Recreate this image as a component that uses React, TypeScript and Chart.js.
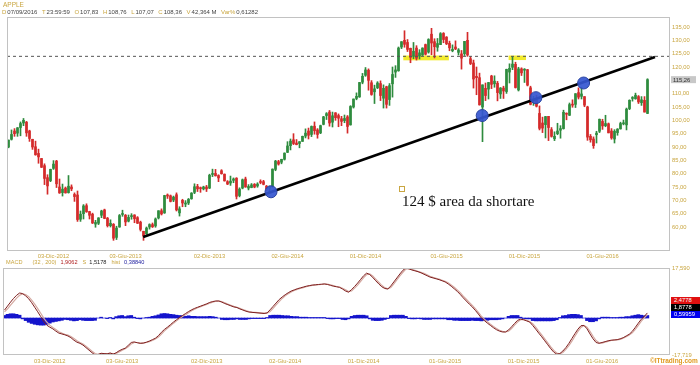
import React, { useEffect, useRef } from 'react';
import { Chart, registerables } from 'chart.js';
Chart.register(...registerables);

const FONT = '"Liberation Sans", Arial, sans-serif';
const GOLD = '#c9a640';
const UP = '#2e8b3e';
const DOWN = '#d42a2a';

// weekly slots: index 0 = week of 13-Aug-2012 ... 213 = week of 12-Sep-2016
const X_MIN = -0.5;
const X_MAX = 220.5;

const OPEN = [
  90.0, 92.9, 96.0, 95.2, 97.3, 99.0, 99.3, 96.0, 92.9, 90.1,
  87.6, 85.7, 83.0, 78.5, 77.4, 82.0, 84.7, 75.0, 72.9, 74.6,
  72.9, 75.0, 72.2, 72.0, 62.9, 65.0, 68.0, 65.8, 64.8, 61.1,
  61.4, 64.4, 66.4, 63.3, 60.5, 61.0, 56.1, 60.0, 64.7, 64.4,
  62.2, 63.9, 64.5, 63.5, 61.8, 58.4, 57.5, 60.0, 60.9, 60.4,
  63.4, 66.1, 65.3, 72.0, 71.7, 70.1, 72.1, 65.3, 70.0, 68.6,
  69.0, 70.6, 73.0, 75.2, 74.5, 74.3, 75.0, 74.6, 79.7, 80.1,
  79.3, 81.1, 79.8, 77.0, 76.5, 77.5, 78.3, 71.8, 74.6, 78.0,
  74.6, 74.8, 76.0, 75.4, 76.9, 77.0, 75.3, 74.6, 75.1, 81.6,
  84.5, 84.3, 85.4, 88.0, 90.5, 92.7, 91.5, 91.3, 92.1, 94.1,
  96.0, 94.7, 97.8, 96.4, 95.3, 98.5, 101.8, 103.1, 99.3, 102.8,
  101.8, 100.6, 99.9, 101.3, 98.3, 105.0, 108.2, 108.8, 114.3, 116.9,
  118.8, 114.1, 110.7, 112.2, 113.8, 108.3, 112.6, 107.8, 113.7, 118.1,
  118.6, 127.5, 130.0, 129.2, 127.0, 124.0, 127.1, 124.1, 124.5, 128.4,
  125.6, 132.3, 129.5, 127.4, 128.4, 132.6, 131.2, 128.9, 126.1, 127.5,
  125.5, 124.9, 125.0, 130.0, 123.1, 121.5, 116.5, 116.0, 105.0, 112.0,
  111.7, 116.6, 113.7, 113.9, 109.9, 112.1, 110.8, 118.1, 119.9, 121.0,
  111.4, 119.3, 118.8, 119.0, 112.2, 107.3, 107.6, 102.6, 99.0, 98.4,
  101.5, 96.5, 93.1, 95.0, 96.3, 96.9, 102.4, 101.9, 105.9, 106.0,
  110.4, 109.0, 108.9, 105.0, 94.0, 93.0, 94.6, 95.9, 99.6, 98.0,
  98.7, 96.0, 93.0, 95.4, 96.8, 98.7, 98.3, 104.4, 108.2, 108.1,
  108.9, 106.6, 107.5, 102.6
];
const HIGH = [
  92.6, 96.4, 96.9, 97.3, 99.4, 100.7, 99.6, 96.3, 92.9, 92.2,
  89.2, 85.7, 83.7, 79.6, 81.7, 84.9, 85.0, 78.0, 76.1, 75.0,
  79.3, 75.8, 72.8, 73.5, 66.0, 68.4, 68.7, 65.9, 65.2, 62.5,
  63.5, 66.3, 66.7, 63.6, 62.7, 61.3, 60.3, 64.7, 66.3, 64.7,
  64.5, 65.0, 64.6, 63.9, 62.2, 58.4, 60.0, 61.2, 61.5, 63.4,
  66.1, 66.8, 71.9, 72.4, 72.0, 71.6, 72.8, 67.6, 70.4, 69.9,
  70.7, 72.9, 76.2, 76.0, 75.0, 75.3, 75.6, 79.8, 81.7, 81.6,
  79.6, 81.5, 79.9, 77.4, 79.1, 78.4, 78.5, 74.7, 78.0, 78.7,
  75.9, 76.3, 76.3, 76.6, 77.7, 77.5, 75.6, 75.4, 81.8, 85.0,
  85.0, 85.4, 87.8, 92.0, 93.0, 95.0, 92.8, 92.0, 94.1, 96.8,
  97.1, 97.9, 99.4, 96.9, 98.2, 101.5, 102.9, 103.7, 103.1, 102.9,
  102.4, 101.5, 102.0, 101.8, 105.5, 108.0, 110.3, 114.2, 117.6, 119.8,
  119.3, 114.9, 113.2, 114.5, 114.8, 113.3, 112.8, 113.8, 120.0, 120.5,
  127.5, 129.5, 133.6, 130.3, 127.1, 129.2, 128.0, 126.5, 127.2, 128.6,
  130.6, 134.5, 130.6, 130.7, 132.9, 132.9, 131.4, 129.7, 128.3, 129.8,
  126.9, 126.2, 129.6, 133.0, 123.9, 122.6, 120.0, 117.7, 113.3, 114.0,
  114.2, 116.9, 116.7, 114.6, 112.3, 112.8, 119.2, 121.2, 123.8, 121.8,
  119.9, 119.7, 119.4, 119.1, 112.8, 109.0, 109.4, 105.4, 101.2, 101.5,
  101.5, 97.3, 95.7, 98.9, 98.0, 103.8, 102.8, 106.5, 107.7, 110.0,
  112.2, 112.4, 108.9, 105.3, 94.7, 93.8, 95.9, 100.5, 100.4, 101.9,
  99.0, 96.9, 96.5, 96.9, 99.3, 100.1, 104.6, 107.7, 108.9, 110.2,
  109.3, 108.9, 108.9, 115.6
];
const LOW = [
  89.7, 92.6, 94.0, 94.0, 94.2, 98.0, 94.0, 92.1, 89.1, 86.9,
  83.9, 82.3, 75.9, 72.3, 77.0, 81.6, 74.8, 72.6, 71.6, 72.7,
  72.7, 73.6, 69.6, 62.1, 62.1, 63.0, 65.5, 63.0, 61.3, 59.9,
  60.9, 63.5, 63.1, 60.0, 60.0, 55.0, 55.3, 59.9, 64.0, 60.5,
  61.9, 62.9, 61.6, 61.3, 58.5, 55.0, 57.2, 59.2, 59.8, 59.9,
  63.0, 64.5, 65.1, 70.7, 69.4, 69.5, 66.0, 64.1, 67.6, 67.6,
  68.4, 70.4, 72.5, 73.3, 73.0, 73.9, 73.3, 74.4, 78.9, 79.1,
  77.0, 79.8, 77.2, 75.9, 75.6, 76.6, 70.5, 71.3, 74.3, 74.9,
  73.9, 74.7, 74.7, 74.9, 76.2, 75.8, 73.6, 73.0, 74.9, 81.1,
  83.2, 83.7, 85.1, 87.9, 88.9, 90.9, 90.8, 89.7, 92.1, 93.4,
  93.0, 93.9, 94.8, 93.3, 95.0, 98.3, 100.3, 97.8, 97.5, 100.0,
  97.6, 98.0, 99.1, 95.2, 98.2, 104.6, 107.7, 108.6, 113.7, 116.5,
  111.3, 109.4, 106.3, 111.9, 107.4, 104.6, 104.6, 105.6, 108.7, 116.1,
  118.4, 126.9, 127.4, 125.8, 121.6, 123.1, 122.6, 123.0, 124.3, 124.5,
  125.2, 124.6, 123.4, 125.9, 128.4, 129.1, 128.4, 126.1, 125.7, 126.5,
  124.5, 119.2, 124.3, 124.0, 120.9, 112.1, 109.6, 105.7, 92.0, 107.4,
  108.0, 111.9, 112.4, 107.3, 108.2, 108.2, 110.1, 114.0, 119.0, 112.1,
  111.0, 116.8, 114.2, 112.9, 105.8, 105.6, 105.0, 96.4, 95.4, 93.4,
  92.4, 93.7, 92.4, 94.6, 93.3, 96.7, 100.2, 101.8, 104.9, 104.8,
  108.0, 108.0, 105.1, 92.5, 91.8, 89.5, 91.5, 95.4, 96.6, 97.6,
  95.3, 92.9, 91.5, 94.4, 96.7, 98.3, 96.4, 104.0, 107.2, 107.9,
  106.3, 105.6, 103.1, 102.5
];
const CLOSE = [
  92.6, 94.7, 95.0, 97.2, 98.8, 100.0, 95.3, 93.2, 90.0, 87.1,
  86.3, 82.4, 78.2, 75.4, 81.6, 83.6, 76.2, 72.8, 74.2, 72.8,
  75.3, 74.3, 71.4, 62.8, 64.8, 67.9, 65.7, 64.4, 61.5, 61.7,
  63.4, 66.0, 63.2, 60.5, 61.4, 55.8, 59.6, 64.3, 64.7, 61.9,
  63.6, 64.2, 63.1, 61.4, 59.1, 56.6, 59.6, 60.9, 60.1, 63.0,
  66.1, 64.9, 71.8, 71.6, 69.6, 71.2, 66.4, 66.8, 69.0, 69.0,
  70.4, 72.7, 75.1, 74.3, 74.4, 75.0, 74.3, 79.4, 80.0, 79.2,
  78.4, 80.0, 77.3, 76.1, 77.2, 78.0, 71.5, 74.2, 77.7, 75.0,
  75.2, 75.8, 75.0, 76.1, 76.7, 76.0, 74.2, 75.0, 81.7, 84.7,
  83.6, 85.4, 87.7, 90.4, 92.2, 91.3, 90.9, 92.0, 94.0, 95.2,
  94.4, 97.7, 96.1, 94.7, 98.0, 101.3, 102.5, 99.0, 101.7, 101.0,
  100.8, 99.6, 100.7, 97.7, 105.2, 108.0, 109.0, 114.2, 116.5, 118.9,
  115.0, 109.7, 111.8, 114.0, 109.3, 112.0, 106.0, 113.0, 117.2, 118.9,
  127.1, 129.5, 128.5, 126.6, 123.6, 125.9, 123.3, 125.3, 127.1, 124.8,
  130.3, 129.0, 127.6, 128.8, 132.5, 130.3, 128.7, 127.2, 126.6, 126.8,
  126.4, 123.3, 129.6, 124.5, 121.3, 115.5, 116.0, 105.8, 113.3, 109.3,
  114.2, 113.5, 114.7, 110.4, 112.1, 111.0, 119.1, 119.5, 121.1, 112.3,
  119.3, 117.8, 119.0, 113.2, 106.0, 108.0, 105.3, 97.0, 97.1, 101.4,
  97.3, 94.0, 94.0, 96.0, 96.9, 103.0, 102.3, 105.9, 105.7, 110.0,
  108.7, 109.9, 105.7, 93.7, 92.7, 90.5, 95.2, 100.4, 97.9, 98.8,
  95.3, 93.4, 95.9, 96.7, 98.8, 98.7, 104.2, 107.5, 108.2, 109.4,
  106.9, 107.7, 103.1, 115.26
];

const MACD = [
  2.8, 4.2, 5.6, 6.9, 8.0, 8.8, 8.6, 7.8, 6.8, 5.4,
  3.8, 2.2, 0.5, -1.2, -2.5, -3.2, -3.8, -4.6, -5.3, -5.6,
  -5.9, -6.3, -6.9, -7.8, -8.5, -8.9, -9.5, -10.4, -11.3, -12.2,
  -13.0, -12.8, -12.4, -12.5, -12.6, -12.3, -12.7, -12.2, -11.5, -11.0,
  -10.6, -9.6, -8.6, -8.4, -8.7, -8.9, -8.8, -8.5, -8.1, -7.6,
  -7.1, -6.2, -5.0, -4.0, -3.2, -2.3, -1.4, -0.6, 0.2, 0.9,
  1.6, 2.3, 2.9, 3.4, 3.8, 4.2, 4.6, 5.0, 5.5, 5.8,
  6.0, 6.0, 5.6, 5.1, 4.7, 4.3, 3.9, 3.7, 3.2, 2.8,
  2.4, 2.1, 2.0, 1.9, 1.8, 1.7, 1.6, 1.8, 2.9, 4.1,
  5.3, 6.5, 7.4, 8.2, 8.9, 9.5, 9.9, 10.3, 10.6, 10.9,
  11.2, 11.4, 11.6, 11.7, 11.8, 11.9, 12.0, 11.8, 11.5, 11.2,
  11.0, 10.8, 10.2, 9.5, 9.1, 10.0, 11.1, 12.3, 13.6, 14.9,
  15.8, 15.3, 14.3, 13.1, 12.0, 11.0, 10.4, 10.2, 11.3, 12.7,
  14.1, 15.5, 16.8, 17.6, 17.3, 16.9, 16.6, 16.3, 15.9, 15.4,
  14.9, 14.4, 14.1, 13.8, 13.5, 13.1, 12.7, 12.0, 11.2, 10.3,
  9.4, 8.3, 7.1, 6.0, 4.9, 3.9, 2.7, 1.4, 0.0, -0.9,
  -1.8, -2.6, -3.4, -4.1, -4.6, -4.9, -4.9, -4.2, -3.1, -1.9,
  -0.8, -0.4, -0.6, -1.0, -1.4, -2.6, -3.9, -5.3, -6.6, -8.0,
  -9.4, -10.8, -12.0, -12.7, -12.5, -11.6, -10.4, -8.9, -7.2, -5.5,
  -3.9, -2.7, -2.6, -3.8, -5.6, -7.3, -8.6, -8.9, -8.6, -8.3,
  -8.0, -7.8, -7.7, -7.6, -7.3, -6.9, -6.3, -5.7, -4.7, -3.3,
  -1.8, -0.4, 0.6, 1.8
];
const SIGNAL = [
  2.2, 3.2, 4.5, 5.8, 7.0, 8.0, 8.5, 8.3, 7.5, 6.3,
  4.9, 3.3, 1.7, 0.0, -1.4, -2.5, -3.3, -4.0, -4.8, -5.3,
  -5.7, -6.0, -6.5, -7.2, -8.0, -8.6, -9.1, -9.9, -10.8, -11.7,
  -12.5, -12.8, -12.6, -12.5, -12.5, -12.4, -12.5, -12.4, -11.9, -11.3,
  -10.8, -10.1, -9.1, -8.6, -8.6, -8.8, -8.8, -8.6, -8.3, -7.9,
  -7.4, -6.7, -5.6, -4.5, -3.6, -2.7, -1.8, -1.0, -0.2, 0.5,
  1.2, 1.9, 2.6, 3.1, 3.6, 4.0, 4.4, 4.8, 5.2, 5.6,
  5.9, 6.0, 5.8, 5.4, 4.9, 4.5, 4.1, 3.8, 3.4, 3.0,
  2.6, 2.3, 2.1, 2.0, 1.9, 1.8, 1.7, 1.7, 2.3, 3.4,
  4.6, 5.8, 6.9, 7.8, 8.5, 9.2, 9.7, 10.1, 10.4, 10.7,
  11.0, 11.3, 11.5, 11.6, 11.7, 11.8, 11.9, 11.9, 11.7, 11.4,
  11.1, 10.9, 10.5, 9.9, 9.3, 9.5, 10.5, 11.6, 12.9, 14.2,
  15.3, 15.5, 14.8, 13.7, 12.6, 11.5, 10.7, 10.3, 10.7, 12.0,
  13.4, 14.8, 16.1, 17.2, 17.4, 17.1, 16.8, 16.4, 16.1, 15.7,
  15.2, 14.7, 14.3, 14.0, 13.7, 13.3, 12.9, 12.4, 11.6, 10.8,
  9.9, 8.9, 7.7, 6.6, 5.5, 4.4, 3.3, 2.0, 0.7, -0.4,
  -1.3, -2.2, -3.0, -3.7, -4.3, -4.7, -4.9, -4.6, -3.7, -2.5,
  -1.4, -0.6, -0.5, -0.8, -1.2, -2.0, -3.2, -4.6, -5.9, -7.3,
  -8.7, -10.1, -11.4, -12.3, -12.6, -12.1, -11.0, -9.7, -8.1, -6.4,
  -4.7, -3.3, -2.6, -3.2, -4.7, -6.4, -7.9, -8.7, -8.8, -8.5,
  -8.2, -7.9, -7.8, -7.7, -7.5, -7.1, -6.6, -6.0, -5.2, -4.0,
  -2.6, -1.1, 0.1, 1.2
];
const HIST = [
  0.9, 1.3, 1.5, 1.5, 1.3, 1.0,
  -0.3, -0.9, -1.5, -1.9, -2.2, -2.4, -2.5, -2.5, -2.2, -1.8, -1.4, -1.2,
  -1.0, -0.8, -0.5, -0.6, -0.8, -1.0, -0.9, -0.6, -0.8, -0.9, -0.9, -0.9, -0.8, 0.0, 0.3, 0.0, -0.2,
  0.2, -0.3, 0.5, 0.8, 0.9,
  0.5, 0.8, 0.9, 0.3, -0.2, -0.3, 0.0, 0.2, 0.3,
  0.6, 0.8, 1.1, 1.5, 1.6, 1.5, 1.3,
  1.2, 1.0, 0.9, 0.8, 0.6,
  0.8, 0.6, 0.6, 0.5, 0.5, 0.5, 0.5, 0.6, 0.5, 0.3,
  0.0, -0.5, -0.6, -0.6, -0.5, -0.5, -0.3, -0.5, -0.5, -0.5, -0.3, -0.2, -0.2, -0.2, -0.2, -0.2, 0.2,
  0.9, 1.0, 1.0, 1.0, 0.9, 0.8, 0.8, 0.6, 0.5, 0.5, 0.3, 0.3, 0.3, 0.2,
  0.2, 0.2, 0.2, 0.2, 0.2, -0.2, -0.3, -0.3, -0.2, -0.2, -0.5, -0.6, -0.3,
  0.6, 0.9, 1.0, 1.0, 1.0, 0.8,
  -0.3, -0.8, -0.9, -0.9, -0.8, -0.5, -0.2,
  0.9, 1.0, 1.0, 1.0, 1.0, 0.6,
  -0.2, -0.3, -0.3, -0.2, -0.3, -0.5, -0.5, -0.5, -0.3, -0.3, -0.3, -0.3, -0.3, -0.6,
  -0.6, -0.8, -0.8, -0.9, -0.9, -0.9, -0.9, -0.8, -0.9, -0.9,
  -1.0, -0.8, -0.8, -0.6, -0.6, -0.6, -0.5, -0.3, 0.0,
  0.6, 0.9, 0.9, 0.9, 0.3,
  -0.2, -0.3, -0.3, -0.9, -1.0, -1.0, -1.0, -1.0, -1.0, -1.0, -0.9, -0.6,
  0.2, 0.8, 0.9, 1.2, 1.3, 1.3, 1.2, 0.9,
  0.0, -0.9, -1.3, -1.3, -1.0, -0.3,
  0.3, 0.3, 0.3, 0.2, 0.2, 0.2, 0.3, 0.3,
  0.5, 0.5, 0.8, 1.0, 1.2, 1.0, 0.8, 0.9
];

const DATE_TICKS = [15, 39, 67, 93, 119, 146, 172, 198];
const DATE_LABELS = ['03-Dic-2012', '03-Giu-2013', '02-Dic-2013', '02-Giu-2014', '01-Dic-2014', '01-Giu-2015', '01-Dic-2015', '01-Giu-2016'];
const PRICE_TICKS = [60, 65, 70, 75, 80, 85, 90, 95, 100, 105, 110, 120, 125, 130, 135];
const PRICE_MIN = 51;
const PRICE_MAX = 138.75;
const LAST_PRICE = 115.26;
const LEVEL = 124;
const TREND = [{ x: 44.9, y: 56.25 }, { x: 215.5, y: 123.75 }];
const TOUCHES = [{ x: 87.5, y: 73.2 }, { x: 157.9, y: 101.8 }, { x: 175.8, y: 108.5 }, { x: 191.7, y: 114.0 }];
const ZONES = [{ x0: 131.6, x1: 146.8, y0: 122.5, y1: 124.3 }, { x0: 166.7, x1: 172.5, y0: 122.6, y1: 124.3 }];
const MACD_MIN = -13.0;
const MACD_MAX = 17.6;
const MACD_TICK_LABELS = ['-17,719', '17,590'];

const framePlugin = {
  id: 'frame',
  afterDraw(chart: any) {
    const { ctx, chartArea: a } = chart;
    ctx.save();
    ctx.strokeStyle = '#c2c2c2';
    ctx.lineWidth = 1;
    ctx.strokeRect(a.left + 0.5, a.top + 0.5, a.right - a.left - 1, a.bottom - a.top - 1);
    ctx.restore();
  },
};

const zonesPlugin = {
  id: 'zones',
  beforeDatasetsDraw(chart: any) {
    const { ctx, scales } = chart;
    const x = scales.x, y = scales.y;
    ctx.save();
    ctx.fillStyle = '#f2ea2c';
    ZONES.forEach((z) => {
      const x0 = x.getPixelForValue(z.x0), x1 = x.getPixelForValue(z.x1);
      const y0 = y.getPixelForValue(z.y1), y1 = y.getPixelForValue(z.y0);
      ctx.fillRect(x0, y0, x1 - x0, y1 - y0);
    });
    ctx.restore();
  },
};

const lastPricePlugin = {
  id: 'lastPrice',
  afterDraw(chart: any) {
    const { ctx, chartArea: a, scales } = chart;
    const yp = scales.y.getPixelForValue(LAST_PRICE);
    ctx.save();
    ctx.fillStyle = '#c8c8c8';
    ctx.fillRect(a.right + 1, yp - 3.5, 25, 7);
    ctx.fillStyle = '#333';
    ctx.font = `5.8px ${FONT}`;
    ctx.textBaseline = 'middle';
    ctx.fillText(LAST_PRICE.toFixed(2).replace('.', ','), a.right + 3, yp + 0.3);
    ctx.restore();
  },
};

function xScale(height: number, pad: number) {
  return {
    type: 'linear',
    min: X_MIN,
    max: X_MAX,
    offset: false,
    grid: { display: false, drawTicks: false },
    border: { display: false },
    afterBuildTicks: (s: any) => { s.ticks = DATE_TICKS.map((v) => ({ value: v })); },
    afterFit: (s: any) => { s.height = height; },
    ticks: {
      autoSkip: false,
      maxRotation: 0,
      padding: pad,
      color: GOLD,
      font: { family: FONT, size: 5.8 },
      callback: (v: any) => { const k = DATE_TICKS.indexOf(v); return k >= 0 ? DATE_LABELS[k] : ''; },
    },
  };
}

export default function App() {
  const r1 = useRef<HTMLCanvasElement>(null);
  const r2 = useRef<HTMLCanvasElement>(null);

  useEffect(() => {
    const colors = CLOSE.map((c, i) => (c >= OPEN[i] ? UP : DOWN));
    const wicks = CLOSE.map((_, i) => ({ x: i, y: [LOW[i], HIGH[i]] }));
    const bodies = CLOSE.map((c, i) => ({ x: i, y: [OPEN[i], c] }));
    const level = [{ x: X_MIN, y: LEVEL }, { x: X_MAX, y: LEVEL }];

    const c1 = new Chart(r1.current as HTMLCanvasElement, {
      type: 'bar',
      data: {
        datasets: [
          { type: 'scatter', data: TOUCHES, pointRadius: 6, backgroundColor: 'rgba(52,86,208,0.92)', borderColor: '#2a44a0', borderWidth: 1, order: 0 } as any,
          { type: 'line', data: TREND, borderColor: '#000', borderWidth: 2.6, pointRadius: 0, order: 1 } as any,
          { type: 'line', data: level, borderColor: '#555', borderWidth: 1, borderDash: [3, 3], pointRadius: 0, order: 2 } as any,
          { type: 'bar', data: bodies, backgroundColor: colors, barThickness: 2, grouped: false, minBarLength: 1, borderWidth: 0, order: 3 } as any,
          { type: 'bar', data: wicks, backgroundColor: colors, barThickness: 1, grouped: false, borderWidth: 0, order: 4 } as any,
        ],
      },
      options: {
        responsive: false,
        animation: false,
        devicePixelRatio: 1,
        events: [],
        layout: { padding: { left: 3, top: 17, right: 0, bottom: 0 } },
        plugins: { legend: { display: false }, tooltip: { enabled: false } },
        scales: {
          x: xScale(11, 2) as any,
          y: {
            type: 'linear',
            position: 'right',
            min: PRICE_MIN,
            max: PRICE_MAX,
            grid: { display: false, drawTicks: false },
            border: { display: false },
            afterBuildTicks: (s: any) => { s.ticks = PRICE_TICKS.map((v) => ({ value: v })); },
            afterFit: (s: any) => { s.width = 30; },
            ticks: {
              padding: 2,
              color: GOLD,
              font: { family: FONT, size: 5.8 },
              callback: (v: any) => Number(v).toFixed(2).replace('.', ','),
            },
          } as any,
        },
      },
      plugins: [zonesPlugin, framePlugin, lastPricePlugin],
    });

    const c2 = new Chart(r2.current as HTMLCanvasElement, {
      type: 'bar',
      data: {
        datasets: [
          { type: 'line', data: MACD.map((v, i) => ({ x: i, y: v })), borderColor: '#7e1f1f', borderWidth: 1, pointRadius: 0, order: 0 } as any,
          { type: 'line', data: SIGNAL.map((v, i) => ({ x: i, y: v })), borderColor: '#d4a8a0', borderWidth: 1.2, pointRadius: 0, order: 1 } as any,
          { type: 'bar', data: HIST.map((v, i) => ({ x: i, y: v })), backgroundColor: '#1414cc', barThickness: 3, grouped: false, borderWidth: 0, order: 2 } as any,
        ],
      },
      options: {
        responsive: false,
        animation: false,
        devicePixelRatio: 1,
        events: [],
        layout: { padding: { left: 3, top: 12, right: 0, bottom: 0 } },
        plugins: { legend: { display: false }, tooltip: { enabled: false } },
        scales: {
          x: xScale(10, 3) as any,
          y: {
            type: 'linear',
            position: 'right',
            min: MACD_MIN,
            max: MACD_MAX,
            grid: { display: false, drawTicks: false },
            border: { display: false },
            afterBuildTicks: (s: any) => { s.ticks = [{ value: MACD_MIN }, { value: MACD_MAX }]; },
            afterFit: (s: any) => { s.width = 30; },
            ticks: {
              padding: 2,
              color: GOLD,
              font: { family: FONT, size: 5.8 },
              callback: (_v: any, i: number) => MACD_TICK_LABELS[i],
            },
          } as any,
        },
      },
      plugins: [framePlugin],
    });

    return () => { c1.destroy(); c2.destroy(); };
  }, []);

  const hdr: [string, string][] = [
    ['D', '07/09/2016'], ['T', '23:59:59'], ['O', '107,83'], ['H', '108,76'],
    ['L', '107,07'], ['C', '108,36'], ['V', '42,364 M'], ['Var%', '0,61282'],
  ];
  const box = (top: number, bg: string, text: string) => (
    <div style={{ position: 'absolute', left: 671, top, width: 29, height: 7, background: bg, color: '#fff', fontSize: 5.8, lineHeight: '7px', paddingLeft: 3, boxSizing: 'border-box' }}>{text}</div>
  );

  return (
    <div style={{ position: 'absolute', left: 0, top: 0, width: 700, height: 365, background: '#fff', overflow: 'hidden', fontFamily: FONT }}>
      <canvas ref={r1} width={700} height={262} style={{ position: 'absolute', left: 0, top: 0 }} />
      <canvas ref={r2} width={700} height={109} style={{ position: 'absolute', left: 0, top: 256 }} />
      <div style={{ position: 'absolute', left: 3, top: 1, fontSize: 6.5, color: GOLD, lineHeight: '7px' }}>APPLE</div>
      <div style={{ position: 'absolute', left: 2, top: 9, fontSize: 6, lineHeight: '7px', whiteSpace: 'nowrap' }}>
        {hdr.map(([k, v]) => (
          <span key={k} style={{ marginRight: 4.5 }}>
            <span style={{ color: GOLD }}>{k}</span>
            <span style={{ color: '#444', marginLeft: 1 }}>{v}</span>
          </span>
        ))}
      </div>
      <div style={{ position: 'absolute', left: 6, top: 259, fontSize: 5.6, lineHeight: '7px', whiteSpace: 'nowrap' }}>
        <span style={{ color: GOLD }}>MACD</span>
        <span style={{ color: GOLD, marginLeft: 10 }}>(32 , 200)</span>
        <span style={{ color: '#b02020', marginLeft: 4 }}>1,9062</span>
        <span style={{ color: GOLD, marginLeft: 5 }}>S</span>
        <span style={{ color: '#222', marginLeft: 3 }}>1,5178</span>
        <span style={{ color: GOLD, marginLeft: 5 }}>hist</span>
        <span style={{ color: '#2020a0', marginLeft: 4 }}>0,38840</span>
      </div>
      {box(297, '#e01010', '2,4778')}
      {box(304, '#000', '1,8778')}
      {box(311, '#0000f0', '0,59959')}
      <div style={{ position: 'absolute', left: 650, top: 357, fontSize: 6.5, fontWeight: 'bold', color: '#e09a20', lineHeight: '8px', whiteSpace: 'nowrap' }}>©ITtrading.com</div>
      <div style={{ position: 'absolute', left: 399, top: 186, width: 4, height: 4, border: `1px solid ${GOLD}` }} />
      <div style={{ position: 'absolute', left: 402, top: 193, fontFamily: '"Liberation Serif", "Times New Roman", serif', fontSize: 15, color: '#111', whiteSpace: 'nowrap' }}>124 $ area da shortare</div>
    </div>
  );
}
